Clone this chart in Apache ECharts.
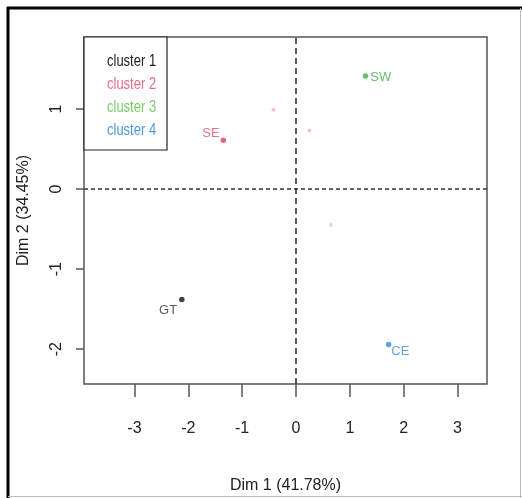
<!DOCTYPE html>
<html><head><meta charset="utf-8">
<script src="https://cdn.jsdelivr.net/npm/echarts@6/dist/echarts.min.js"></script>
<style>html,body{margin:0;padding:0;background:#fff}#c{width:522px;height:498px}</style>
</head><body><div id="c"></div>
<script>
// ---- data ----
const pointLabels = ['GT', 'SE', 'SW', 'CE'];
const pointX = [-2.12, -1.35, 1.29, 1.72];
const pointY = [-1.38, 0.61, 1.41, -1.94];
const pointCluster = [1, 2, 3, 4];
const faintX = [-0.42, 0.25, 0.65];
const faintY = [0.99, 0.73, -0.45];
const faintCluster = [2, 2, 3];
const clusterNames = ['cluster 1', 'cluster 2', 'cluster 3', 'cluster 4'];
const xTicks = [-3, -2, -1, 0, 1, 2, 3];
const yTicks = [-2, -1, 0, 1];
const xTitle = 'Dim 1 (41.78%)';
const yTitle = 'Dim 2 (34.45%)';

// ---- styles ----
const FONT = "'Liberation Sans', Arial, sans-serif";
const dotColors = {1: '#111111', 2: '#dc3d5e', 3: '#3fae45', 4: '#2a8fe0'};
const labelColors = {1: '#333333', 2: '#d9526c', 3: '#45a94a', 4: '#3b8fd9'};
const legendColors = ['#222222', '#e0708a', '#78cf67', '#4d9ae0'];
const faintColors = {2: '#f4b5c4', 3: '#bfe3b6'};
const labelPlace = {
  GT: {position: 'left', offset: [1, 11]},
  SE: {position: 'left', offset: [2, -7]},
  SW: {position: 'right', offset: [-1, 1]},
  CE: {position: 'right', offset: [-3, 7]}
};

const chart = echarts.init(document.getElementById('c'), null, {renderer: 'canvas'});

const mainData = pointLabels.map((n, i) => ({
  value: [pointX[i], pointY[i]],
  name: n,
  itemStyle: {color: dotColors[pointCluster[i]]},
  label: {
    show: true, formatter: n,
    position: labelPlace[n].position, offset: labelPlace[n].offset, distance: 3,
    color: labelColors[pointCluster[i]], fontSize: 13, fontFamily: FONT
  }
}));
const faintData = faintX.map((x, i) => ({
  value: [x, faintY[i]],
  itemStyle: {color: faintColors[faintCluster[i]]}
}));

const legendTexts = clusterNames.map((t, i) => ({
  type: 'text', x: 107, y: 62 + i * 23, z: 101, scaleY: 1.2,
  style: {text: t, fill: legendColors[i], font: '13px ' + FONT, verticalAlign: 'middle'}
}));

chart.setOption({
  animation: false,
  backgroundColor: '#fff',
  grid: {left: 84, right: 35, top: 37, bottom: 114, outerBoundsMode: 'none', containLabel: false,
         show: true, borderColor: '#555', borderWidth: 1.5, backgroundColor: 'transparent'},
  xAxis: {
    type: 'value', min: -3.937, max: 3.547,
    splitLine: {show: false},
    axisLine: {show: false, onZero: false},
    axisTick: {show: true, customValues: xTicks, length: 13, lineStyle: {color: '#555', width: 1.5}},
    axisLabel: {customValues: xTicks, fontSize: 16, fontFamily: FONT, color: '#222', margin: 37},
    name: xTitle, nameLocation: 'middle', nameGap: 94,
    nameTextStyle: {fontSize: 16, fontFamily: FONT, color: '#222'}
  },
  yAxis: {
    type: 'value', min: -2.434, max: 1.898,
    splitLine: {show: false},
    axisLine: {show: false, onZero: false},
    axisTick: {show: true, customValues: yTicks, length: 8, lineStyle: {color: '#555', width: 1.5}},
    axisLabel: {customValues: yTicks, rotate: 90, fontSize: 16, fontFamily: FONT, color: '#222', margin: 19},
    name: yTitle, nameLocation: 'middle', nameGap: 52,
    nameTextStyle: {fontSize: 16, fontFamily: FONT, color: '#222'}
  },
  series: [
    {
      type: 'scatter', symbolSize: 4, data: faintData, silent: true,
      markLine: {
        silent: true, symbol: 'none', label: {show: false},
        data: [
          {xAxis: 0, lineStyle: {type: [6, 4], color: '#333', width: 1.6}},
          {yAxis: 0, lineStyle: {type: [4, 3], color: '#333', width: 1.6}}
        ]
      }
    },
    {type: 'scatter', symbolSize: 5.5, data: mainData, silent: true}
  ],
  graphic: [
    {type: 'rect', shape: {x: 84, y: 37, width: 83, height: 113}, style: {fill: '#fff', stroke: '#222', lineWidth: 1.2}, z: 100},
    ...legendTexts,
    {type: 'line', shape: {x1: 7, y1: 8, x2: 522, y2: 8}, style: {stroke: '#000', lineWidth: 3}},
    {type: 'line', shape: {x1: 8, y1: 7, x2: 8, y2: 498}, style: {stroke: '#000', lineWidth: 3}},
    {type: 'line', shape: {x1: 520.5, y1: 8, x2: 520.5, y2: 498}, style: {stroke: '#bbb', lineWidth: 1}},
    {type: 'line', shape: {x1: 8, y1: 496.5, x2: 522, y2: 496.5}, style: {stroke: '#bbb', lineWidth: 1}}
  ]
});
</script>
</body></html>
